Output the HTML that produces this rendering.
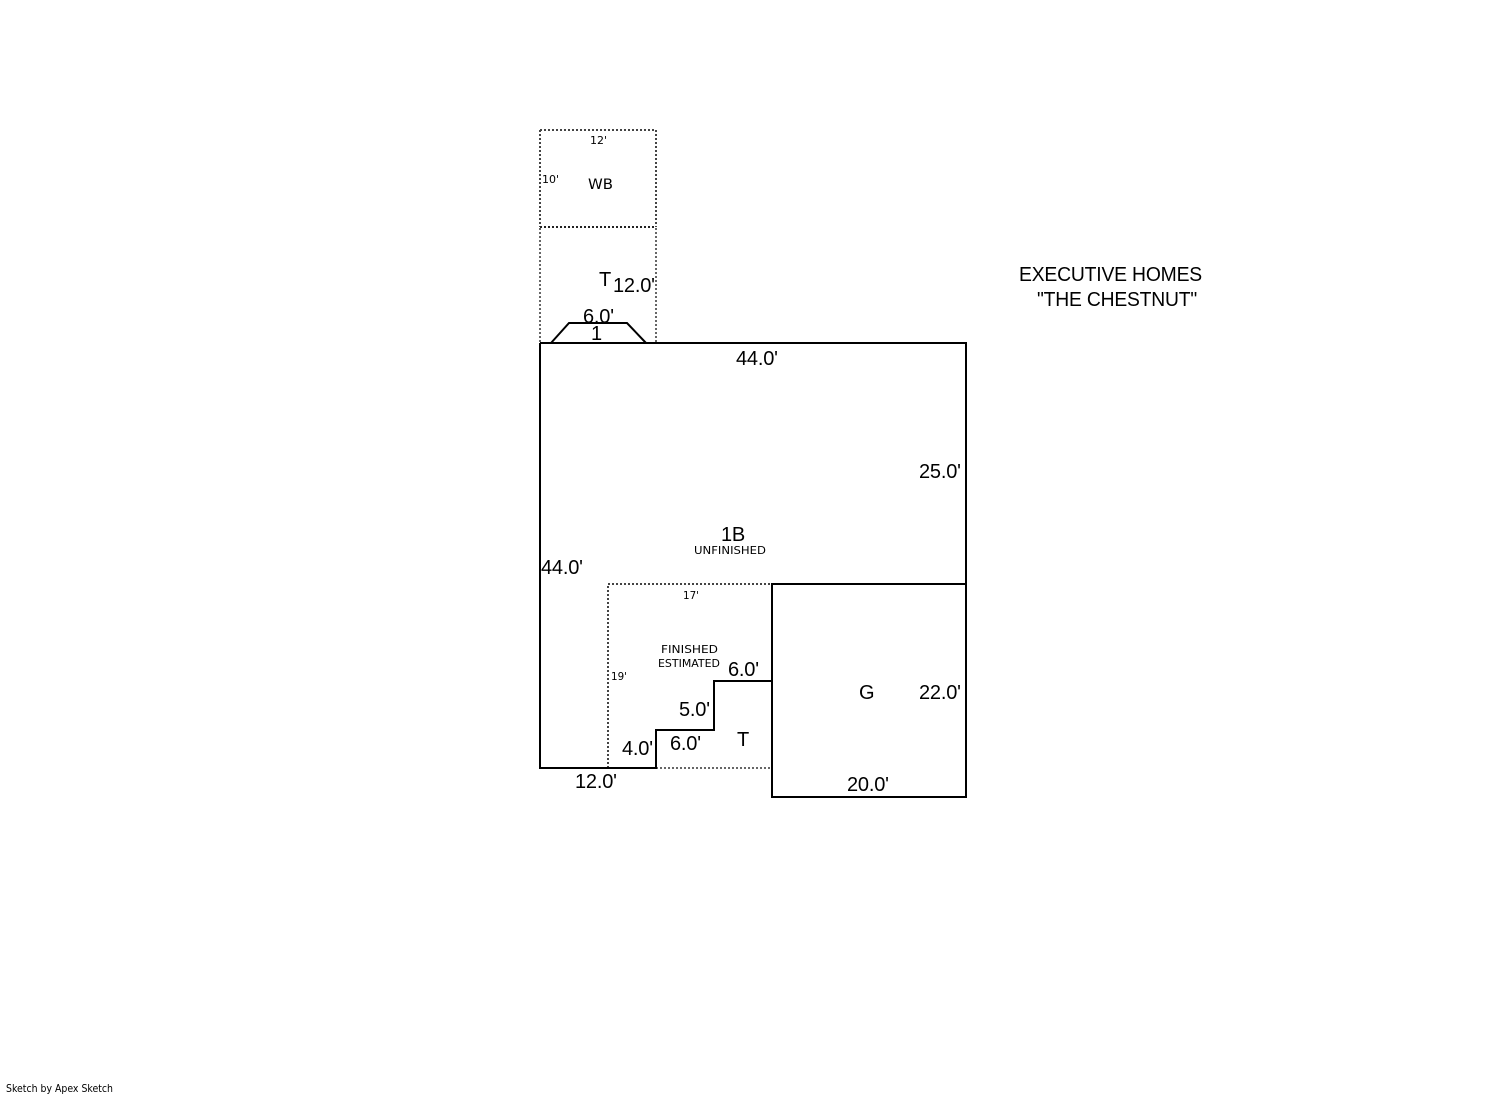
<!DOCTYPE html>
<html>
<head>
<meta charset="utf-8">
<title>Executive Homes - The Chestnut</title>
<style>
html,body{margin:0;padding:0;background:#fff;}
svg{display:block;}
.a{font-family:"Liberation Sans",Arial,sans-serif;font-size:20px;letter-spacing:-0.2px;fill:#000;}
.v{font-family:"DejaVu Sans",Verdana,sans-serif;font-size:11px;fill:#000;}
.w{font-family:"DejaVu Sans",Verdana,sans-serif;font-size:14px;fill:#000;}
.s{fill:none;stroke:#000;stroke-width:2;}
</style>
</head>
<body>
<svg width="1492" height="1094" viewBox="0 0 1492 1094" xmlns="http://www.w3.org/2000/svg">
<rect width="1492" height="1094" fill="#fff"/>

<!-- dotted areas -->
<g fill="none" stroke-dasharray="2 2" stroke-width="2">
  <path d="M540 130H656V227M540 130V227" stroke="#444"/>
  <path d="M540 227H656" stroke="#222"/>
  <path d="M540 228V343M656 228V343" stroke="#666"/>
  <path d="M608 768V584H772" stroke="#444"/>
  <path d="M656 768H772" stroke="#666"/>
</g>

<!-- solid outlines -->
<path class="s" d="M551 343L569 323H627L646 343"/>
<path class="s" d="M540 343H966V797H772V584H966"/>
<path class="s" d="M540 343V768H656V730H714V681H772"/>

<!-- large labels -->
<text class="a" x="599" y="286">T</text>
<text class="a" x="613" y="292">12.0'</text>
<text class="a" x="583" y="323">6.0'</text>
<text class="a" x="591" y="340">1</text>
<text class="a" x="736" y="365">44.0'</text>
<text class="a" x="919" y="478">25.0'</text>
<text class="a" x="721" y="541">1B</text>
<text class="a" x="541" y="574">44.0'</text>
<text class="a" x="859" y="699">G</text>
<text class="a" x="919" y="699">22.0'</text>
<text class="a" x="728" y="676">6.0'</text>
<text class="a" x="679" y="716">5.0'</text>
<text class="a" x="737" y="746">T</text>
<text class="a" x="670" y="750">6.0'</text>
<text class="a" x="622" y="755">4.0'</text>
<text class="a" x="575" y="788">12.0'</text>
<text class="a" x="847" y="791">20.0'</text>
<text class="a" x="1019" y="281" textLength="183" lengthAdjust="spacingAndGlyphs">EXECUTIVE HOMES</text>
<text class="a" x="1037" y="306" textLength="160" lengthAdjust="spacingAndGlyphs">"THE CHESTNUT"</text>

<!-- small labels -->
<text class="v" x="590" y="144">12'</text>
<text class="v" x="542" y="183">10'</text>
<text class="w" x="588" y="189" textLength="25" lengthAdjust="spacingAndGlyphs">WB</text>
<text class="v" x="694" y="554" textLength="72" lengthAdjust="spacingAndGlyphs">UNFINISHED</text>
<text class="v" x="683" y="599" textLength="16" lengthAdjust="spacingAndGlyphs">17'</text>
<text class="v" x="661" y="653" textLength="57" lengthAdjust="spacingAndGlyphs">FINISHED</text>
<text class="v" x="658" y="667" textLength="62" lengthAdjust="spacingAndGlyphs">ESTIMATED</text>
<text class="v" x="611" y="680" textLength="16" lengthAdjust="spacingAndGlyphs">19'</text>
<text class="v" x="6" y="1092" textLength="107" lengthAdjust="spacingAndGlyphs">Sketch by Apex Sketch</text>
</svg>
</body>
</html>
